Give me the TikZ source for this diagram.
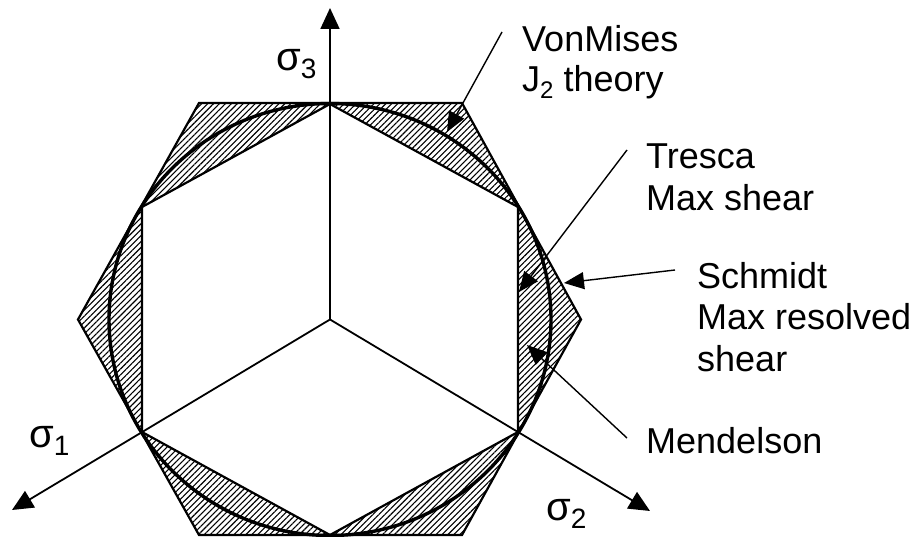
\documentclass[tikz,border=0pt]{standalone}
\usepackage{fontspec}
\setmainfont{Liberation Sans}
\usetikzlibrary{arrows.meta,patterns.meta}
\begin{document}
\begin{tikzpicture}[x=1pt,y=-1pt,
  hexline/.style={line width=2.2pt, line join=miter},
  axisline/.style={line width=1.8pt,-{Triangle[length=21pt,width=19pt]}},
  leader/.style={line width=1.4pt,-{Triangle[length=20pt,width=17pt]}},
  lbl/.style={font=\fontsize{36}{41}\selectfont, anchor=base west, inner sep=0pt},
  sig/.style={font=\fontsize{40}{42}\selectfont, anchor=base west, inner sep=0pt},
  hatch/.style={pattern={Lines[angle=45,distance=4.2pt,line width=1.1pt]}}]
\useasboundingbox (0,0) rectangle (918,537);
% centre
\coordinate (C) at (330,319.5);
% inner (Tresca) hexagon
\coordinate (i1) at (330,104);
\coordinate (i2) at (518,207);
\coordinate (i3) at (518,432);
\coordinate (i4) at (330,535);
\coordinate (i5) at (142,432);
\coordinate (i6) at (142,207);
% outer (Schmidt) hexagon
\coordinate (o1) at (199,103);
\coordinate (o2) at (462,103);
\coordinate (o3) at (581,319.5);
\coordinate (o4) at (462,535);
\coordinate (o5) at (199,535);
\coordinate (o6) at (78,319.5);
% hatched region
\fill[hatch, even odd rule] (o1)--(o2)--(o3)--(o4)--(o5)--(o6)--cycle
  (i1)--(i2)--(i3)--(i4)--(i5)--(i6)--cycle;
\draw[hexline] (o1)--(o2)--(o3)--(o4)--(o5)--(o6)--cycle;
\draw[hexline] (i1)--(i2)--(i3)--(i4)--(i5)--(i6)--cycle;
% von Mises circle
\draw[line width=3.4pt] (C) ellipse [x radius=221, y radius=216];
% axes
\coordinate (a3) at (330,8);
\coordinate (a1) at (12,510);
\coordinate (a2) at (650,511);
\draw[axisline] (C) -- (a3);
\draw[axisline] (C) -- (a1);
\draw[axisline] (C) -- (a2);
\node[sig] (s3) at (276,71) {σ\raisebox{-8pt}{\fontsize{28}{30}\selectfont 3}};
\node[sig] (s1) at (29,447) {σ\raisebox{-8pt}{\fontsize{28}{30}\selectfont 1}};
\node[sig] (s2) at (546,520) {σ\raisebox{-8pt}{\fontsize{28}{30}\selectfont 2}};
% labels
\node[lbl] (vm1) at (522,52) {VonMises};
\node[lbl] (vm2) at (522,92) {J\raisebox{-7pt}{\fontsize{24}{26}\selectfont 2} theory};
\node[lbl] (tr1) at (646,169) {Tresca};
\node[lbl] (tr2) at (646,211) {Max shear};
\node[lbl] (sc1) at (697,288) {Schmidt};
\node[lbl] (sc2) at (697,329) {Max resolved};
\node[lbl] (sc3) at (697,371) {shear};
\node[lbl] (me1) at (646,453) {Mendelson};
% leaders
\coordinate (vmS) at (502,32);  \coordinate (vmT) at (447,132);
\coordinate (trS) at (627,150); \coordinate (trT) at (519,292);
\coordinate (scS) at (675,270); \coordinate (scT) at (564,283);
\coordinate (meS) at (627,438); \coordinate (meT) at (527,345);
\draw[leader] (vmS) -- (vmT);
\draw[leader] (trS) -- (trT);
\draw[leader] (scS) -- (scT);
\draw[leader] (meS) -- (meT);
\end{tikzpicture}
\end{document}
